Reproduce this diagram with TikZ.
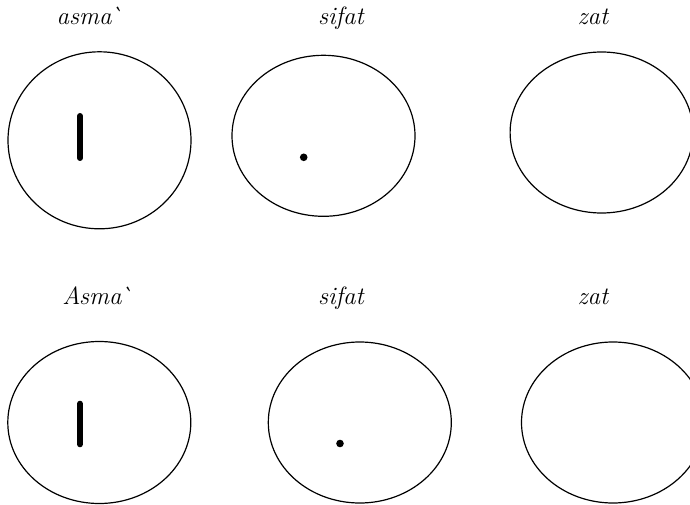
\documentclass[tikz,border=0pt]{standalone}
\usetikzlibrary{shapes.geometric}
\begin{document}
\begin{tikzpicture}[x=1pt,y=-1pt,
  lab/.style={anchor=base,inner sep=0pt,font=\fontsize{25}{30}\selectfont\itshape},
  oval/.style={draw,ellipse,line width=1.2pt,inner sep=0pt,minimum width=183pt},
  barmark/.style={line width=6pt,line cap=round},
]
\useasboundingbox (0,0) rectangle (690,505);
% top row labels
\node[lab] (t1) at (89,25) {asma\kern-2.5pt\textasciigrave};
\node[lab] (t2) at (341,25) {sifat};
\node[lab] (t3) at (593,25) {zat};
% top row ellipses
\node[oval,minimum height=177pt] (e1) at (99.5,140.3) {};
\node[oval,minimum height=161pt] (e2) at (323.5,135.8) {};
\node[oval,minimum height=161pt] (e3) at (601.6,132.5) {};
\coordinate (b1a) at (80,116);
\coordinate (b1b) at (80,158);
\draw[barmark] (b1a) -- (b1b);
\fill (303.7,157.3) circle (3.8);
% bottom row labels
\node[lab] (u1) at (97,304) {Asma\kern-2.5pt\textasciigrave};
\node[lab] (u2) at (341,304) {sifat};
\node[lab] (u3) at (593,304) {zat};
% bottom row ellipses
\node[oval,minimum height=162pt] (f1) at (99.3,422.5) {};
\node[oval,minimum height=161pt] (f2) at (359.8,422.5) {};
\node[oval,minimum height=161pt] (f3) at (613,422.5) {};
\coordinate (b2a) at (80,403.7);
\coordinate (b2b) at (80,444.3);
\draw[barmark] (b2a) -- (b2b);
\fill (340,443.5) circle (3.8);
\end{tikzpicture}
\end{document}
